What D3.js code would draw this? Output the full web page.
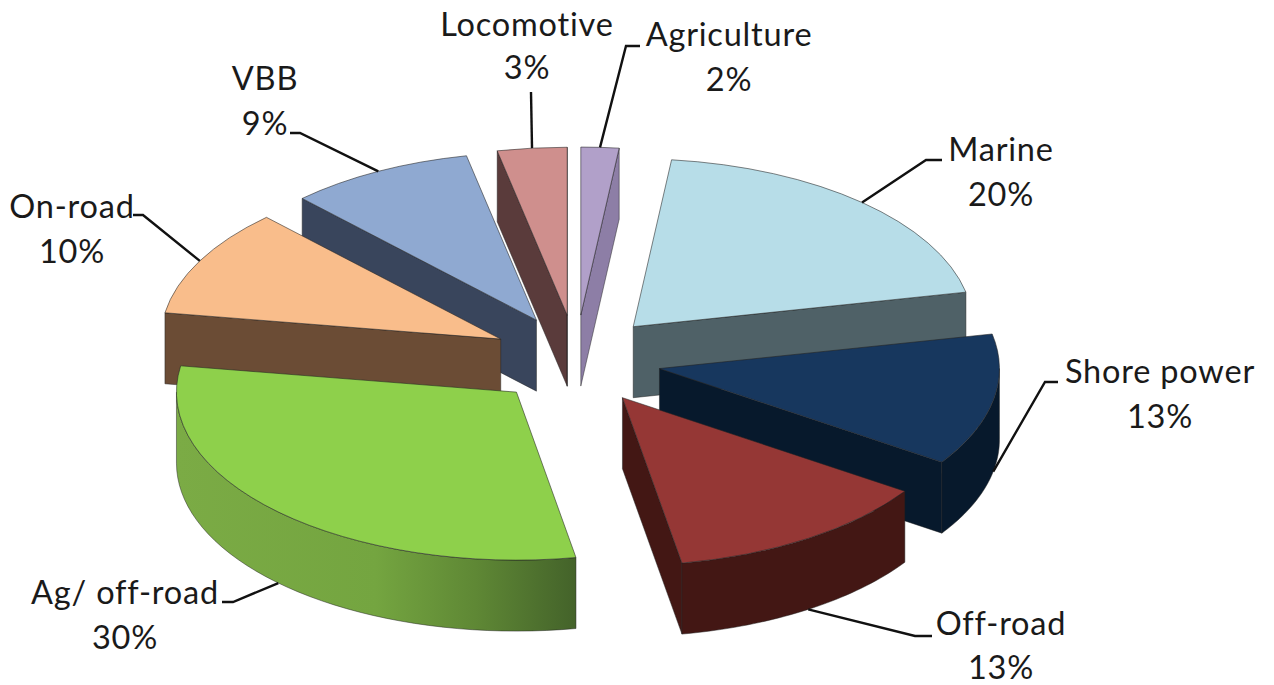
<!DOCTYPE html>
<html>
<head>
<meta charset="utf-8">
<script src="https://cdn.jsdelivr.net/npm/d3@7"></script>
<style>
    html, body { margin: 0; background: #fff; }
    svg { display: block; }
    text { font-family: Lato, "Open Sans", sans-serif; font-size: 32.5px; fill: #1a1a1a; letter-spacing: 0.8px; }
</style>
</head>
<body>
<div id="chart"></div>
<script>
// chart data, clockwise from twelve o'clock
const categories = ['Agriculture', 'Marine', 'Shore power', 'Off-road', 'Ag/ off-road', 'On-road', 'VBB', 'Locomotive'];
const shares = [1.8, 19.9, 12.7, 12.8, 30.3, 10.4, 8.8, 3.3];
const labels = ['2%', '20%', '13%', '13%', '30%', '10%', '9%', '3%'];

const topColors = ['#b1a0c9', '#b7dde8', '#17375e', '#953735', '#8ed04b', '#f9bd8b', '#8fa9d1', '#cf8f8d'];
const sideColors = ['#8d7ea6', '#4f6167', '#07192c', '#431714', 'url(#agRim)', '#6b4c35', '#39455c', '#5a3b3b'];

// label centre x, first and second baseline, then the elbow of each leader [x, y, end x]
const labelPos = [[729, 46, 91], [1001, 161, 206], [1160, 383, 428], [1001, 635, 679], [125, 604, 649], [72, 218, 263], [265, 90, 135], [527, 36, 79]];
const elbows = [[626, 46, 640], [926, 160, 942], [1045, 382, 1058], [915, 636, 932], [233, 602, 222], [143, 215, 133], [300, 133, 290], [531, 92, 531]];

const width = 1274, height = 685;
const cx = 576, cy = 360;      // centre of the unexploded pie
const rx = 340, ry = 168;      // top face ellipse
const depth = 71;
const explodeX = 85, explodeY = 45;

const svg = d3.select('#chart').append('svg')
    .attr('width', width)
    .attr('height', height);

// rim shading on the big green slice, in the slice's own coordinates
const grad = svg.append('defs').append('linearGradient')
    .attr('id', 'agRim')
    .attr('gradientUnits', 'userSpaceOnUse')
    .attr('x1', -rx).attr('x2', 58).attr('y1', 0).attr('y2', 0);
grad.append('stop').attr('offset', '0').attr('stop-color', '#7bab45');
grad.append('stop').attr('offset', '0.5').attr('stop-color', '#74a540');
grad.append('stop').attr('offset', '0.75').attr('stop-color', '#5f8835');
grad.append('stop').attr('offset', '1').attr('stop-color', '#44632a');

const pie = d3.pie().sort(null).value(i => shares[i]);
const slices = pie(d3.range(shares.length));

const topArc = d3.arc().innerRadius(0).outerRadius(rx);
const edge = d3.line();

// position on the ellipse of a slice, relative to its own tip
const onRim = (a, dy = 0) => [rx * Math.sin(a), -ry * Math.cos(a) + dy];

slices.forEach(s => {
    s.mid = (s.startAngle + s.endAngle) / 2;
    s.tx = cx + explodeX * Math.sin(s.mid);
    s.ty = cy - explodeY * Math.cos(s.mid);
});

// radial cut face going down from the top
const cutFace = a => {
    const p = onRim(a);
    return edge([[0, 0], p, [p[0], p[1] + depth], [0, depth]]) + 'Z';
};

// outer wall, only the part of the arc that faces the viewer
const rimFace = (a0, a1) => {
    const from = Math.max(a0, Math.PI / 2);
    const to = Math.min(a1, Math.PI * 1.5);
    if (to <= from) return null;
    const steps = d3.range(0, 41).map(k => from + (to - from) * k / 40);
    const upper = steps.map(a => onRim(a));
    const lower = steps.slice().reverse().map(a => onRim(a, depth));
    return edge(upper.concat(lower)) + 'Z';
};

// back slices first so the front ones overlap them
const order = slices.slice().sort((a, b) => d3.ascending(-Math.cos(a.mid), -Math.cos(b.mid)));

const groups = svg.selectAll('g.slice')
    .data(order)
    .join('g')
    .attr('class', 'slice')
    .attr('transform', d => `translate(${d.tx},${d.ty})`);

groups.each(function (d) {
    const g = d3.select(this);
    const faces = [];
    if (Math.sin(d.startAngle) < 0) faces.push(cutFace(d.startAngle));
    if (Math.sin(d.endAngle) > 0) faces.push(cutFace(d.endAngle));
    const rim = rimFace(d.startAngle, d.endAngle);
    if (rim) faces.push(rim);

    faces.forEach(f => {
        g.append('path')
            .attr('d', f)
            .attr('fill', sideColors[d.data])
            .attr('stroke', '#222')
            .attr('stroke-opacity', 0.6)
            .attr('stroke-width', 0.8);
    });

    g.append('path')
        .attr('d', topArc(d))
        .attr('transform', `scale(1,${ry / rx})`)
        .attr('fill', topColors[d.data])
        .attr('stroke', '#222')
        .attr('stroke-opacity', 0.7)
        .attr('stroke-width', 0.8)
        .attr('vector-effect', 'non-scaling-stroke');
});

// leader lines start at the middle of each slice's outer edge
const leaders = svg.append('g');
slices.forEach((s, i) => {
    const showsWall = Math.cos(s.mid) < 0;
    const p = onRim(s.mid, showsWall ? depth : 0);
    const e = elbows[i];
    leaders.append('path')
        .attr('d', edge([[s.tx + p[0], s.ty + p[1]], [e[0], e[1]], [e[2], e[1]]]))
        .attr('fill', 'none')
        .attr('stroke', '#111')
        .attr('stroke-width', 2.4);
});

// two line labels
const text = svg.selectAll('text.label')
    .data(categories)
    .join('text')
    .attr('class', 'label')
    .attr('text-anchor', 'middle');

text.append('tspan')
    .attr('x', (d, i) => labelPos[i][0])
    .attr('y', (d, i) => labelPos[i][1])
    .text(d => d);

text.append('tspan')
    .attr('x', (d, i) => labelPos[i][0])
    .attr('y', (d, i) => labelPos[i][2])
    .text((d, i) => labels[i]);
</script>
</body>
</html>
